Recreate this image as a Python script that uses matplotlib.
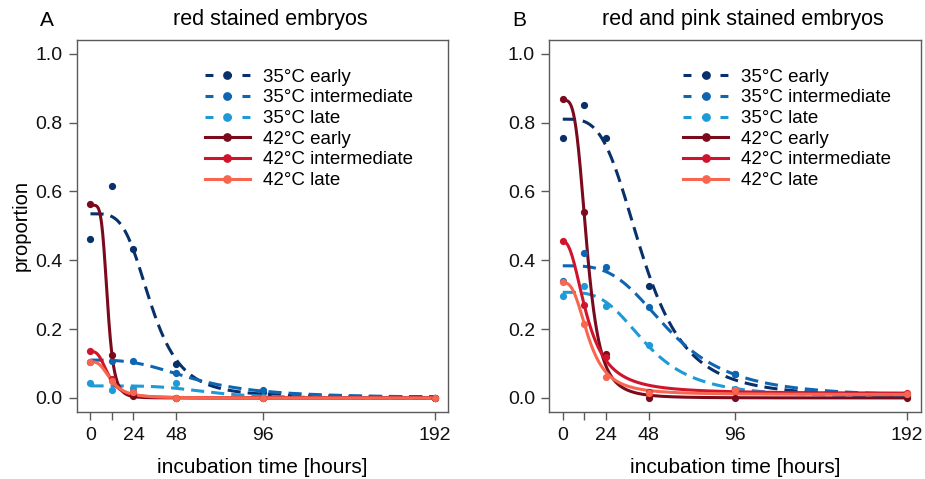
import numpy as np
import matplotlib
matplotlib.use("Agg")
import matplotlib.pyplot as plt
from matplotlib.lines import Line2D

plt.rcParams['font.family'] = ['Liberation Sans', 'DejaVu Sans']

# ---- data ----
times = [0, 12, 24, 48, 96, 192]
x_ticks = [0, 12, 24, 48, 96, 192]
x_tick_labels = ["0", "", "24", "48", "96", "192"]
y_ticks = [0.0, 0.2, 0.4, 0.6, 0.8, 1.0]
series_labels = ["35°C early", "35°C intermediate", "35°C late",
                 "42°C early", "42°C intermediate", "42°C late"]
series_colors = ["#08306B", "#0E65B2", "#1E9BD7", "#7B0A1C", "#D0142C", "#F8664F"]
series_dashed = [True, True, True, False, False, False]

# panel A: red stained embryos (observed proportions)
red_35_early = [0.461, 0.616, 0.432, 0.100, 0.018, 0.000]
red_35_inter = [0.104, 0.107, 0.107, 0.071, 0.022, 0.000]
red_35_late = [0.042, 0.024, 0.030, 0.042, 0.002, 0.000]
red_42_early = [0.563, 0.126, 0.005, 0.000, 0.000, 0.000]
red_42_inter = [0.136, 0.055, 0.017, 0.000, 0.000, 0.000]
red_42_late = [0.104, 0.050, 0.017, 0.000, 0.000, 0.000]

# panel B: red and pink stained embryos (observed proportions)
rp_35_early = [0.756, 0.851, 0.756, 0.325, 0.069, 0.005]
rp_35_inter = [0.341, 0.421, 0.380, 0.263, 0.069, 0.005]
rp_35_late = [0.296, 0.324, 0.267, 0.153, 0.025, 0.005]
rp_42_early = [0.868, 0.540, 0.127, 0.000, 0.000, 0.000]
rp_42_inter = [0.455, 0.270, 0.120, 0.017, 0.022, 0.013]
rp_42_late = [0.336, 0.216, 0.060, 0.015, 0.022, 0.010]

# fitted log-logistic curves: top, bottom, t50, slope
red_fit_top = [0.535, 0.110, 0.035, 0.560, 0.135, 0.105]
red_fit_bottom = [0.003, 0.000, 0.000, 0.000, 0.000, 0.000]
red_fit_t50 = [34.0, 58.0, 65.0, 9.5, 10.0, 11.5]
red_fit_slope = [4.0, 3.0, 4.5, 5.3, 3.0, 3.0]

rp_fit_top = [0.810, 0.384, 0.307, 0.865, 0.455, 0.335]
rp_fit_bottom = [0.003, 0.003, 0.003, 0.000, 0.013, 0.010]
rp_fit_t50 = [45.0, 60.0, 47.0, 13.6, 13.8, 14.6]
rp_fit_slope = [3.6, 3.36, 3.4, 3.7, 2.3, 2.77]

panels = [
    dict(letter="A", title="red stained embryos",
         obs=[red_35_early, red_35_inter, red_35_late, red_42_early, red_42_inter, red_42_late],
         top=red_fit_top, bottom=red_fit_bottom, t50=red_fit_t50, slope=red_fit_slope,
         leg_x=0.345),
    dict(letter="B", title="red and pink stained embryos",
         obs=[rp_35_early, rp_35_inter, rp_35_late, rp_42_early, rp_42_inter, rp_42_late],
         top=rp_fit_top, bottom=rp_fit_bottom, t50=rp_fit_t50, slope=rp_fit_slope,
         leg_x=0.361),
]

W, H = 925, 479
fig = plt.figure(figsize=(W / 100, H / 100), dpi=100)
ax_left_px = [76.7, 549.0]
ax_w_px = 371.6
ax_top_px, ax_bot_px = 40.0, 411.7

frame_col = "#5a5a5a"
lw = 2.2
dash_pat = (4.3, 2.3)
leg_dash = (2.6, 3.45)
tgrid = np.linspace(0, 192, 1200)

for p, lpx in zip(panels, ax_left_px):
    ax = fig.add_axes([lpx / W, (H - ax_bot_px) / H, ax_w_px / W, (ax_bot_px - ax_top_px) / H])
    ax.set_xlim(-7.68, 199.68)
    ax.set_ylim(-0.04, 1.04)
    handles = []
    for i in range(6):
        col = series_colors[i]
        fit = p["bottom"][i] + (p["top"][i] - p["bottom"][i]) / (1 + (tgrid / p["t50"][i]) ** p["slope"][i])
        ls = (0, dash_pat) if series_dashed[i] else "-"
        ax.plot(tgrid, fit, color=col, lw=lw, linestyle=ls, zorder=2 + i * 0.1,
                solid_capstyle="butt", dash_capstyle="butt")
        ax.plot(times, p["obs"][i], "o", color=col, ms=5.2, mec="none", zorder=3 + i * 0.1)
        hls = (0, leg_dash) if series_dashed[i] else "-"
        handles.append(Line2D([0], [0], color=col, lw=lw, linestyle=hls, marker="o", ms=6.3,
                              mec="none", dash_capstyle="butt"))
    for s in ax.spines.values():
        s.set_color(frame_col)
        s.set_linewidth(1.0)
    ax.set_xticks(x_ticks)
    ax.set_xticklabels(x_tick_labels)
    ax.set_yticks(y_ticks)
    ax.set_yticklabels([f"{v:.1f}" for v in y_ticks])
    ax.tick_params(axis="both", which="major", length=6, width=1.0, color=frame_col,
                   labelsize=14, labelcolor="#111111")
    ax.tick_params(axis="x", pad=5)
    ax.tick_params(axis="y", pad=4)
    ax.set_xlabel("incubation time [hours]", fontsize=15, labelpad=10)
    if p["letter"] == "A":
        ax.set_ylabel("proportion", fontsize=14.5, labelpad=3.5)
    leg = ax.legend(handles, series_labels, loc="upper left",
                    bbox_to_anchor=(p["leg_x"], 0.923), frameon=False,
                    fontsize=13.5, handlelength=2.4, handletextpad=0.7,
                    labelspacing=0.19, borderpad=0, borderaxespad=0, numpoints=1)
    cx = (lpx + ax_w_px / 2 + 8) / W
    fig.text(cx, 1 - 25.5 / H, p["title"], ha="center", va="baseline", fontsize=15.5)
    fig.text((lpx - 30) / W, 1 - 20 / H, p["letter"], ha="center", va="center", fontsize=15)

fig.savefig("out.png", dpi=100)
